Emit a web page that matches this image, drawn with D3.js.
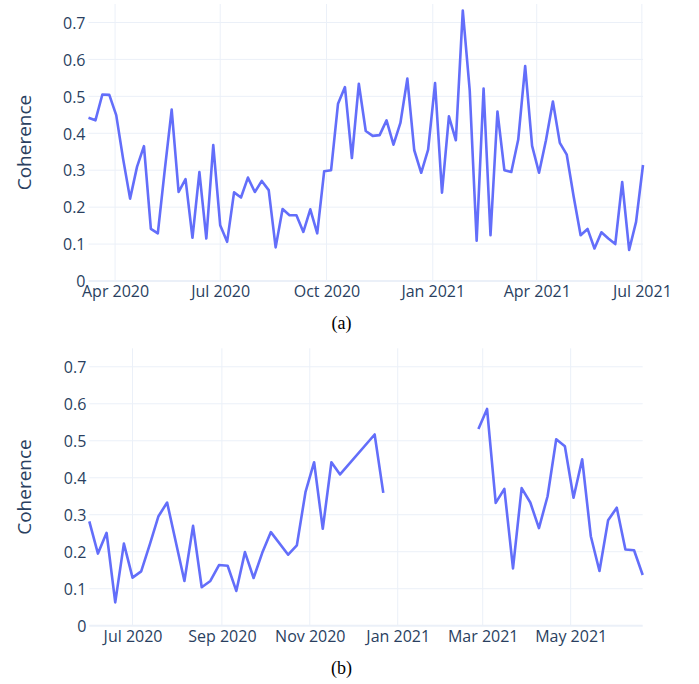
<!DOCTYPE html>
<html>
<head>
<meta charset="utf-8">
<script src="https://cdn.jsdelivr.net/npm/d3@7"></script>
<style>
  html, body { margin: 0; padding: 0; background: #fff; }
  svg { display: block; }
  .tick text { font-family: "Open Sans", "Liberation Sans", sans-serif; font-size: 16px; fill: #2a3f5f; }
</style>
</head>
<body>
<svg id="chart" width="699" height="684"></svg>
<script>
// ---- Data (a) ----
const topDates = [
  "2020-03-09","2020-03-15","2020-03-21","2020-03-27","2020-04-02","2020-04-08","2020-04-14","2020-04-20","2020-04-26",
  "2020-05-02","2020-05-08","2020-05-14","2020-05-20","2020-05-26","2020-06-01","2020-06-07","2020-06-13","2020-06-19",
  "2020-06-25","2020-07-01","2020-07-07","2020-07-13","2020-07-19","2020-07-25","2020-07-31","2020-08-06","2020-08-12",
  "2020-08-18","2020-08-24","2020-08-30","2020-09-05","2020-09-11","2020-09-17","2020-09-23","2020-09-29","2020-10-05",
  "2020-10-11","2020-10-17","2020-10-23","2020-10-29","2020-11-04","2020-11-10","2020-11-16","2020-11-22","2020-11-28",
  "2020-12-04","2020-12-10","2020-12-16","2020-12-22","2020-12-28","2021-01-03","2021-01-09","2021-01-15","2021-01-21",
  "2021-01-27","2021-02-02","2021-02-08","2021-02-14","2021-02-20","2021-02-26","2021-03-04","2021-03-10","2021-03-16",
  "2021-03-22","2021-03-28","2021-04-03","2021-04-09","2021-04-15","2021-04-21","2021-04-27","2021-05-03","2021-05-09",
  "2021-05-15","2021-05-21","2021-05-27","2021-06-02","2021-06-08","2021-06-14","2021-06-20","2021-06-26","2021-07-02"
];
const topValues = [
  0.442,0.435,0.505,0.504,0.449,0.330,0.223,0.309,0.365,
  0.141,0.129,0.300,0.464,0.241,0.276,0.117,0.295,0.115,
  0.368,0.151,0.106,0.240,0.226,0.280,0.241,0.271,0.246,
  0.091,0.195,0.178,0.178,0.133,0.194,0.129,0.297,0.300,
  0.480,0.525,0.333,0.534,0.406,0.393,0.395,0.435,0.369,
  0.428,0.548,0.354,0.293,0.356,0.536,0.239,0.446,0.381,
  0.732,0.516,0.109,0.521,0.124,0.459,0.300,0.295,0.383,
  0.582,0.366,0.293,0.381,0.486,0.374,0.342,0.228,0.124,
  0.141,0.088,0.132,0.115,0.100,0.268,0.084,0.160,0.314
];
const topTicks = ["2020-04-01","2020-07-01","2020-10-01","2021-01-01","2021-04-01","2021-07-01"];

// ---- Data (b) ----
const bottomDates = [
  "2020-06-01","2020-06-07","2020-06-13","2020-06-19","2020-06-25","2020-07-01","2020-07-07","2020-07-13","2020-07-19",
  "2020-07-25","2020-08-06","2020-08-12","2020-08-18","2020-08-24","2020-08-30","2020-09-05","2020-09-11","2020-09-17",
  "2020-09-23","2020-09-29","2020-10-05","2020-10-17","2020-10-23","2020-10-29","2020-11-04","2020-11-10","2020-11-16",
  "2020-11-22","2020-12-16","2020-12-22","2020-12-28",
  "2021-02-26","2021-03-04","2021-03-10","2021-03-16","2021-03-22","2021-03-28","2021-04-03","2021-04-09","2021-04-15",
  "2021-04-21","2021-04-27","2021-05-03","2021-05-09","2021-05-15","2021-05-21","2021-05-27","2021-06-02","2021-06-08",
  "2021-06-14","2021-06-20"
];
const bottomValues = [
  0.282,0.195,0.251,0.063,0.222,0.130,0.147,0.220,0.296,
  0.333,0.121,0.270,0.104,0.121,0.164,0.162,0.094,0.199,
  0.129,0.197,0.253,0.192,0.217,0.361,0.442,0.262,0.442,
  0.409,0.517,0.359,null,
  0.532,0.586,0.332,0.370,0.155,0.372,0.333,0.264,0.350,
  0.504,0.485,0.346,0.450,0.242,0.148,0.285,0.319,0.206,
  0.204,0.137
];
const bottomTicks = ["2020-07-01","2020-09-01","2020-11-01","2021-01-01","2021-03-01","2021-05-01"];

const yTicks = [0, 0.1, 0.2, 0.3, 0.4, 0.5, 0.6, 0.7];
const yMax = 0.75;
const yTitle = "Coherence";

// ---- Drawing ----
const parse = d3.timeParse("%Y-%m-%d");
const fmt = d3.timeFormat("%b %Y");
const svg = d3.select("#chart");
const GRID = "#ebf0f8";
const LINE = "#636efa";

function panel(dates, values, ticks, box, caption, capY) {
  const data = dates.map((d, i) => ({ date: parse(d), v: values[i] }));
  const x = d3.scaleTime().domain(d3.extent(data, d => d.date)).range([box.left, box.right]);
  const y = d3.scaleLinear().domain([0, yMax]).range([box.bottom, box.top]);
  const g = svg.append("g");

  // horizontal grid
  g.append("g").selectAll("line").data(yTicks.filter(t => t > 0)).join("line")
    .attr("x1", box.left).attr("x2", box.right)
    .attr("y1", d => y(d)).attr("y2", d => y(d))
    .attr("stroke", GRID).attr("stroke-width", 1);
  // vertical grid
  const tickDates = ticks.map(parse);
  g.append("g").selectAll("line").data(tickDates).join("line")
    .attr("x1", d => x(d)).attr("x2", d => x(d))
    .attr("y1", box.top).attr("y2", box.bottom)
    .attr("stroke", GRID).attr("stroke-width", 1);
  // zero line
  g.append("line").attr("x1", box.left).attr("x2", box.right)
    .attr("y1", y(0)).attr("y2", y(0)).attr("stroke", GRID).attr("stroke-width", 2);

  // axes
  const xa = g.append("g").attr("transform", `translate(0,${box.bottom})`)
    .call(d3.axisBottom(x).tickValues(tickDates).tickFormat(fmt).tickSize(0).tickPadding(0));
  xa.select(".domain").remove();
  xa.selectAll("text").attr("dy", null).attr("y", 16);

  const ya = g.append("g").attr("transform", `translate(${box.left - 3},0)`)
    .call(d3.axisLeft(y).tickValues(yTicks).tickFormat(d => d === 0 ? "0" : d3.format(".1f")(d)).tickSize(0).tickPadding(0));
  ya.select(".domain").remove();
  ya.selectAll("text").attr("dy", "0.36em");

  // y title
  g.append("text")
    .attr("transform", `translate(30.5,${(box.top + box.bottom) / 2}) rotate(-90)`)
    .attr("text-anchor", "middle")
    .style("font-family", '"Open Sans", "Liberation Sans", sans-serif')
    .style("font-size", "19px").style("fill", "#2a3f5f")
    .text(yTitle);

  // line
  const line = d3.line().defined(d => d.v != null).x(d => x(d.date)).y(d => y(d.v));
  g.append("path").datum(data).attr("d", line)
    .attr("fill", "none").attr("stroke", LINE).attr("stroke-width", 2.6)
    .attr("stroke-linejoin", "round");

  // caption
  svg.append("text").attr("x", 341.5).attr("y", capY).attr("text-anchor", "middle")
    .style("font-family", '"Liberation Serif", "Times New Roman", serif')
    .style("font-size", "18px").style("fill", "#000")
    .text(caption);
}

panel(topDates, topValues, topTicks, { left: 88.5, right: 643, top: 4, bottom: 281 }, "(a)", 329);
panel(bottomDates, bottomValues, bottomTicks, { left: 89.3, right: 642.7, top: 348.3, bottom: 625.7 }, "(b)", 673.5);
</script>
</body>
</html>
